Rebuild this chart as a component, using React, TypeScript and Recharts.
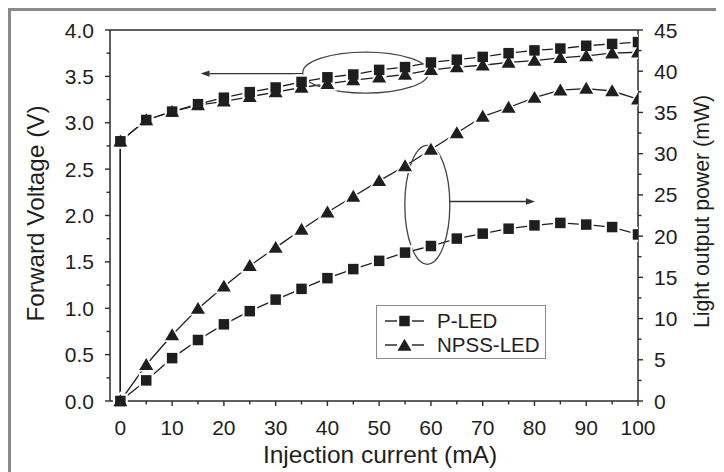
import React from "react";
import { LineChart, Line, XAxis, YAxis, Label, Legend, ReferenceLine, ReferenceDot } from "recharts";

// ---- data ----
const current = [0, 5, 10, 15, 20, 25, 30, 35, 40, 45, 50, 55, 60, 65, 70, 75, 80, 85, 90, 95, 100];
const pLedVoltage = [2.8, 3.03, 3.12, 3.2, 3.27, 3.33, 3.38, 3.44, 3.49, 3.52, 3.57, 3.6, 3.65, 3.68, 3.71, 3.75, 3.78, 3.8, 3.83, 3.85, 3.87];
const npssVoltage = [2.8, 3.03, 3.12, 3.19, 3.23, 3.28, 3.33, 3.38, 3.42, 3.46, 3.49, 3.52, 3.57, 3.6, 3.62, 3.65, 3.67, 3.7, 3.72, 3.75, 3.76];
const pLedPower = [0, 2.5, 5.2, 7.4, 9.3, 10.9, 12.3, 13.6, 14.9, 16.0, 17.0, 18.0, 18.8, 19.7, 20.3, 20.9, 21.3, 21.6, 21.4, 21.1, 20.2];
const npssPower = [0, 4.4, 8.0, 11.2, 13.9, 16.4, 18.6, 20.8, 22.9, 24.8, 26.7, 28.5, 30.5, 32.5, 34.5, 35.6, 36.8, 37.7, 37.9, 37.6, 36.6];
const voltageStart = 0; // voltage trace rises vertically from 0 V at 0 mA

const xTicks = [0, 5, 10, 15, 20, 25, 30, 35, 40, 45, 50, 55, 60, 65, 70, 75, 80, 85, 90, 95, 100];
const leftTicks = [0, 0.25, 0.5, 0.75, 1, 1.25, 1.5, 1.75, 2, 2.25, 2.5, 2.75, 3, 3.25, 3.5, 3.75, 4];
const rightTicks = [0, 2.5, 5, 7.5, 10, 12.5, 15, 17.5, 20, 22.5, 25, 27.5, 30, 32.5, 35, 37.5, 40, 42.5, 45];

const seriesNames = ["P-LED", "NPSS-LED"];

// annotation anchors in data units
const voltageEllipse = { x: 47.4, y: 3.54 };
const voltageArrow = [{ x: 35.2, y: 3.53 }, { x: 15.5, y: 3.53 }];
const powerEllipse = { x: 59.3, y: 23.8 };
const powerArrow = [{ x: 63.6, y: 24.2 }, { x: 80.1, y: 24.2 }];

const withVoltageStart = (vals: number[]) => [
  { current: 0, value: voltageStart },
  ...current.map((c, i) => ({ current: c, value: vals[i] })),
];
const toSeries = (vals: number[]) => current.map((c, i) => ({ current: c, value: vals[i] }));

const pLedVData = withVoltageStart(pLedVoltage);
const npssVData = withVoltageStart(npssVoltage);
const pLedPData = toSeries(pLedPower);
const npssPData = toSeries(npssPower);

const INK = "#1e1e1e";
const AXIS = "#2b2b2b";
const FONT = "'Liberation Sans', Arial, Helvetica, sans-serif";
const TICK_FS = 21;

const squareShape = (cx: number, cy: number, key: string, fill = INK, grow = 0) => {
  const s = 10.5 + grow * 2;
  return <rect key={key} x={cx - s / 2} y={cy - s / 2} width={s} height={s} fill={fill} />;
};
const triangleShape = (cx: number, cy: number, key: string, fill = INK, grow = 0) => (
  <polygon
    key={key}
    points={`${cx},${cy - 6.7 - grow * 1.4} ${cx + 7 + grow * 1.2},${cy + 5.2 + grow * 0.75} ${cx - 7 - grow * 1.2},${cy + 5.2 + grow * 0.75}`}
    fill={fill}
  />
);

const makeDot = (kind: "square" | "triangle", skipFirst: boolean, halo: boolean) => (props: any) => {
  const { cx, cy, index } = props;
  const key = `d-${kind}-${halo ? "h" : "m"}-${index}`;
  if (cx == null || cy == null || (skipFirst && index === 0)) return <g key={key} />;
  const fill = halo ? "#ffffff" : INK;
  const grow = halo ? 2.2 : 0;
  return kind === "square" ? squareShape(cx, cy, key, fill, grow) : triangleShape(cx, cy, key, fill, grow);
};

const XTick = (props: any) => {
  const { x, y, payload } = props;
  const v = payload.value;
  const major = v % 10 === 0;
  return (
    <g>
      <line x1={x} y1={y} x2={x} y2={y + (major ? 5 : 3.5)} stroke={AXIS} strokeWidth={1.4} />
      {major && (
        <text x={x} y={y + 26} textAnchor="middle" dominantBaseline="central" fontSize={TICK_FS} fontFamily={FONT} fill={INK}>
          {v}
        </text>
      )}
    </g>
  );
};

const LeftTick = (props: any) => {
  const { x, y, payload } = props;
  const v = payload.value;
  const major = Math.abs(v * 2 - Math.round(v * 2)) < 1e-6;
  return (
    <g>
      <line x1={x - (major ? 5 : 3.5)} y1={y} x2={x} y2={y} stroke={AXIS} strokeWidth={1.4} />
      {major && (
        <text x={x - 16} y={y} textAnchor="end" dominantBaseline="central" fontSize={TICK_FS} fontFamily={FONT} fill={INK}>
          {v.toFixed(1)}
        </text>
      )}
    </g>
  );
};

const RightTick = (props: any) => {
  const { x, y, payload } = props;
  const v = payload.value;
  const major = v % 5 === 0;
  return (
    <g>
      <line x1={x} y1={y} x2={x + (major ? 5 : 3.5)} y2={y} stroke={AXIS} strokeWidth={1.4} />
      {major && (
        <text x={x + 16} y={y} textAnchor="start" dominantBaseline="central" fontSize={TICK_FS} fontFamily={FONT} fill={INK}>
          {v}
        </text>
      )}
    </g>
  );
};

const arrowShape = (props: any) => {
  const { x1, y1, x2, y2 } = props;
  if ([x1, y1, x2, y2].some((v) => v == null || isNaN(v))) return <g />;
  const ang = Math.atan2(y2 - y1, x2 - x1);
  const L = 9;
  const W = 3.2;
  const bx = x2 - L * Math.cos(ang);
  const by = y2 - L * Math.sin(ang);
  const px = -Math.sin(ang) * W;
  const py = Math.cos(ang) * W;
  return (
    <g>
      <line x1={x1} y1={y1} x2={bx} y2={by} stroke="#333" strokeWidth={1.4} />
      <polygon points={`${x2},${y2} ${bx + px},${by + py} ${bx - px},${by - py}`} fill="#333" />
    </g>
  );
};

const ellipseShape = (rx: number, ry: number) => (props: any) => {
  const { cx, cy } = props;
  if (cx == null || cy == null) return <g />;
  return <ellipse cx={cx} cy={cy} rx={rx} ry={ry} fill="none" stroke="#444" strokeWidth={1.3} />;
};

const LegendBox = () => (
  <div
    style={{
      width: 170,
      height: 54,
      boxSizing: "border-box",
      border: "1.5px solid #8c8c8c",
      background: "#fff",
      fontFamily: FONT,
      fontSize: 20.5,
      color: INK,
      paddingTop: 3,
    }}
  >
    {seriesNames.map((name, i) => (
      <div key={name} style={{ display: "flex", alignItems: "center", height: 24 }}>
        <svg width={52} height={20} style={{ marginLeft: 6 }}>
          <line x1={2} y1={10} x2={14} y2={10} stroke={INK} strokeWidth={1.4} />
          <line x1={29} y1={10} x2={41} y2={10} stroke={INK} strokeWidth={1.4} />
          {i === 0 ? squareShape(21.5, 10, "l0") : triangleShape(21.5, 10.5, "l1")}
        </svg>
        <span style={{ marginLeft: 2, lineHeight: "20px" }}>{name}</span>
      </div>
    ))}
  </div>
);

const lineCommon = { isAnimationActive: false, activeDot: false as const };

export default function App() {
  const series = [
    { id: "pv", axis: "left", data: pLedVData, kind: "square" as const, skip: true, name: seriesNames[0], legend: false },
    { id: "nv", axis: "left", data: npssVData, kind: "triangle" as const, skip: true, name: seriesNames[1], legend: false },
    { id: "pp", axis: "right", data: pLedPData, kind: "square" as const, skip: false, name: seriesNames[0], legend: true },
    { id: "np", axis: "right", data: npssPData, kind: "triangle" as const, skip: false, name: seriesNames[1], legend: true },
  ];
  return (
    <div
      style={{
        position: "relative",
        width: 716,
        height: 464,
        boxSizing: "border-box",
        borderTop: "3px solid #8a8a8a",
        borderLeft: "3px solid #8a8a8a",
        background: "#fff",
      }}
    >
      <div style={{ position: "absolute", left: -3, top: -3 }}>
        <LineChart width={716} height={464} margin={{ top: 22, right: 0, bottom: 0, left: 0 }}>
          <XAxis
            type="number"
            dataKey="current"
            domain={[-2, 100]}
            ticks={xTicks}
            interval={0}
            allowDataOverflow
            height={71}
            tickSize={0}
            tickMargin={0}
            tickLine={false}
            axisLine={{ stroke: AXIS, strokeWidth: 1.5 }}
            tick={<XTick />}
          >
            <Label
              content={(p: any) => {
                const vb = p.viewBox || { x: 102, y: 393, width: 528, height: 71 };
                return (
                  <text x={vb.x + 270} y={vb.y + 53} textAnchor="middle" dominantBaseline="central" fontSize={24.5} fontFamily={FONT} fill={INK}>
                    Injection current (mA)
                  </text>
                );
              }}
            />
          </XAxis>
          <YAxis
            yAxisId="left"
            orientation="left"
            domain={[0, 4]}
            ticks={leftTicks}
            interval={0}
            width={102}
            tickSize={0}
            tickMargin={0}
            tickLine={false}
            axisLine={{ stroke: AXIS, strokeWidth: 1.5 }}
            tick={<LeftTick />}
          >
            <Label
              content={(p: any) => {
                const vb = p.viewBox || { x: 0, y: 22, width: 102, height: 371 };
                const cx = vb.x + 27;
                const cy = vb.y + vb.height / 2 - 2;
                return (
                  <text x={cx} y={cy} transform={`rotate(-90 ${cx} ${cy})`} textAnchor="middle" dominantBaseline="central" fontSize={24.3} fontFamily={FONT} fill={INK}>
                    Forward Voltage (V)
                  </text>
                );
              }}
            />
          </YAxis>
          <YAxis
            yAxisId="right"
            orientation="right"
            domain={[0, 45]}
            ticks={rightTicks}
            interval={0}
            width={86}
            tickSize={0}
            tickMargin={0}
            tickLine={false}
            axisLine={{ stroke: AXIS, strokeWidth: 1.5 }}
            tick={<RightTick />}
          >
            <Label
              content={(p: any) => {
                const vb = p.viewBox || { x: 630, y: 22, width: 86, height: 371 };
                const cx = vb.x + 64;
                const cy = vb.y + vb.height / 2 - 4;
                return (
                  <text x={cx} y={cy} transform={`rotate(-90 ${cx} ${cy})`} textAnchor="middle" dominantBaseline="central" fontSize={21.3} fontFamily={FONT} fill={INK}>
                    Light output power (mW)
                  </text>
                );
              }}
            />
          </YAxis>

          <ReferenceLine yAxisId="left" y={4} stroke={AXIS} strokeWidth={1.5} />

          {/* connecting lines */}
          {series.map((s) => (
            <Line key={`l-${s.id}`} yAxisId={s.axis} data={s.data} dataKey="value" name={s.name} stroke={INK} strokeWidth={1.3} dot={false} legendType="none" {...lineCommon} />
          ))}
          {/* white gap around symbols */}
          {series.map((s) => (
            <Line key={`h-${s.id}`} yAxisId={s.axis} data={s.data} dataKey="value" name={s.name} stroke="none" dot={makeDot(s.kind, s.skip, true)} legendType="none" {...lineCommon} />
          ))}
          {/* symbols */}
          {series.map((s) => (
            <Line key={`m-${s.id}`} yAxisId={s.axis} data={s.data} dataKey="value" name={s.name} stroke="none" dot={makeDot(s.kind, s.skip, false)} legendType={s.legend ? "line" : "none"} {...lineCommon} />
          ))}
          {/* vertical start of voltage trace drawn solid over halos */}
          <Line yAxisId="left" data={pLedVData.slice(0, 2)} dataKey="value" name="start" stroke={INK} strokeWidth={1.3} dot={false} legendType="none" {...lineCommon} />

          <ReferenceDot yAxisId="left" x={voltageEllipse.x} y={voltageEllipse.y} shape={ellipseShape(63, 20.5)} ifOverflow="visible" />
          <ReferenceLine yAxisId="left" segment={voltageArrow} shape={arrowShape} ifOverflow="visible" />
          <ReferenceDot yAxisId="right" x={powerEllipse.x} y={powerEllipse.y} shape={ellipseShape(22.5, 59.5)} ifOverflow="visible" />
          <ReferenceLine yAxisId="right" segment={powerArrow} shape={arrowShape} ifOverflow="visible" />

          <Legend
            layout="horizontal"
            verticalAlign="middle"
            align="center"
            content={() => <LegendBox />}
            wrapperStyle={{ position: "absolute", left: 368, top: 297, width: 170, height: 54 }}
          />
        </LineChart>
      </div>
    </div>
  );
}
